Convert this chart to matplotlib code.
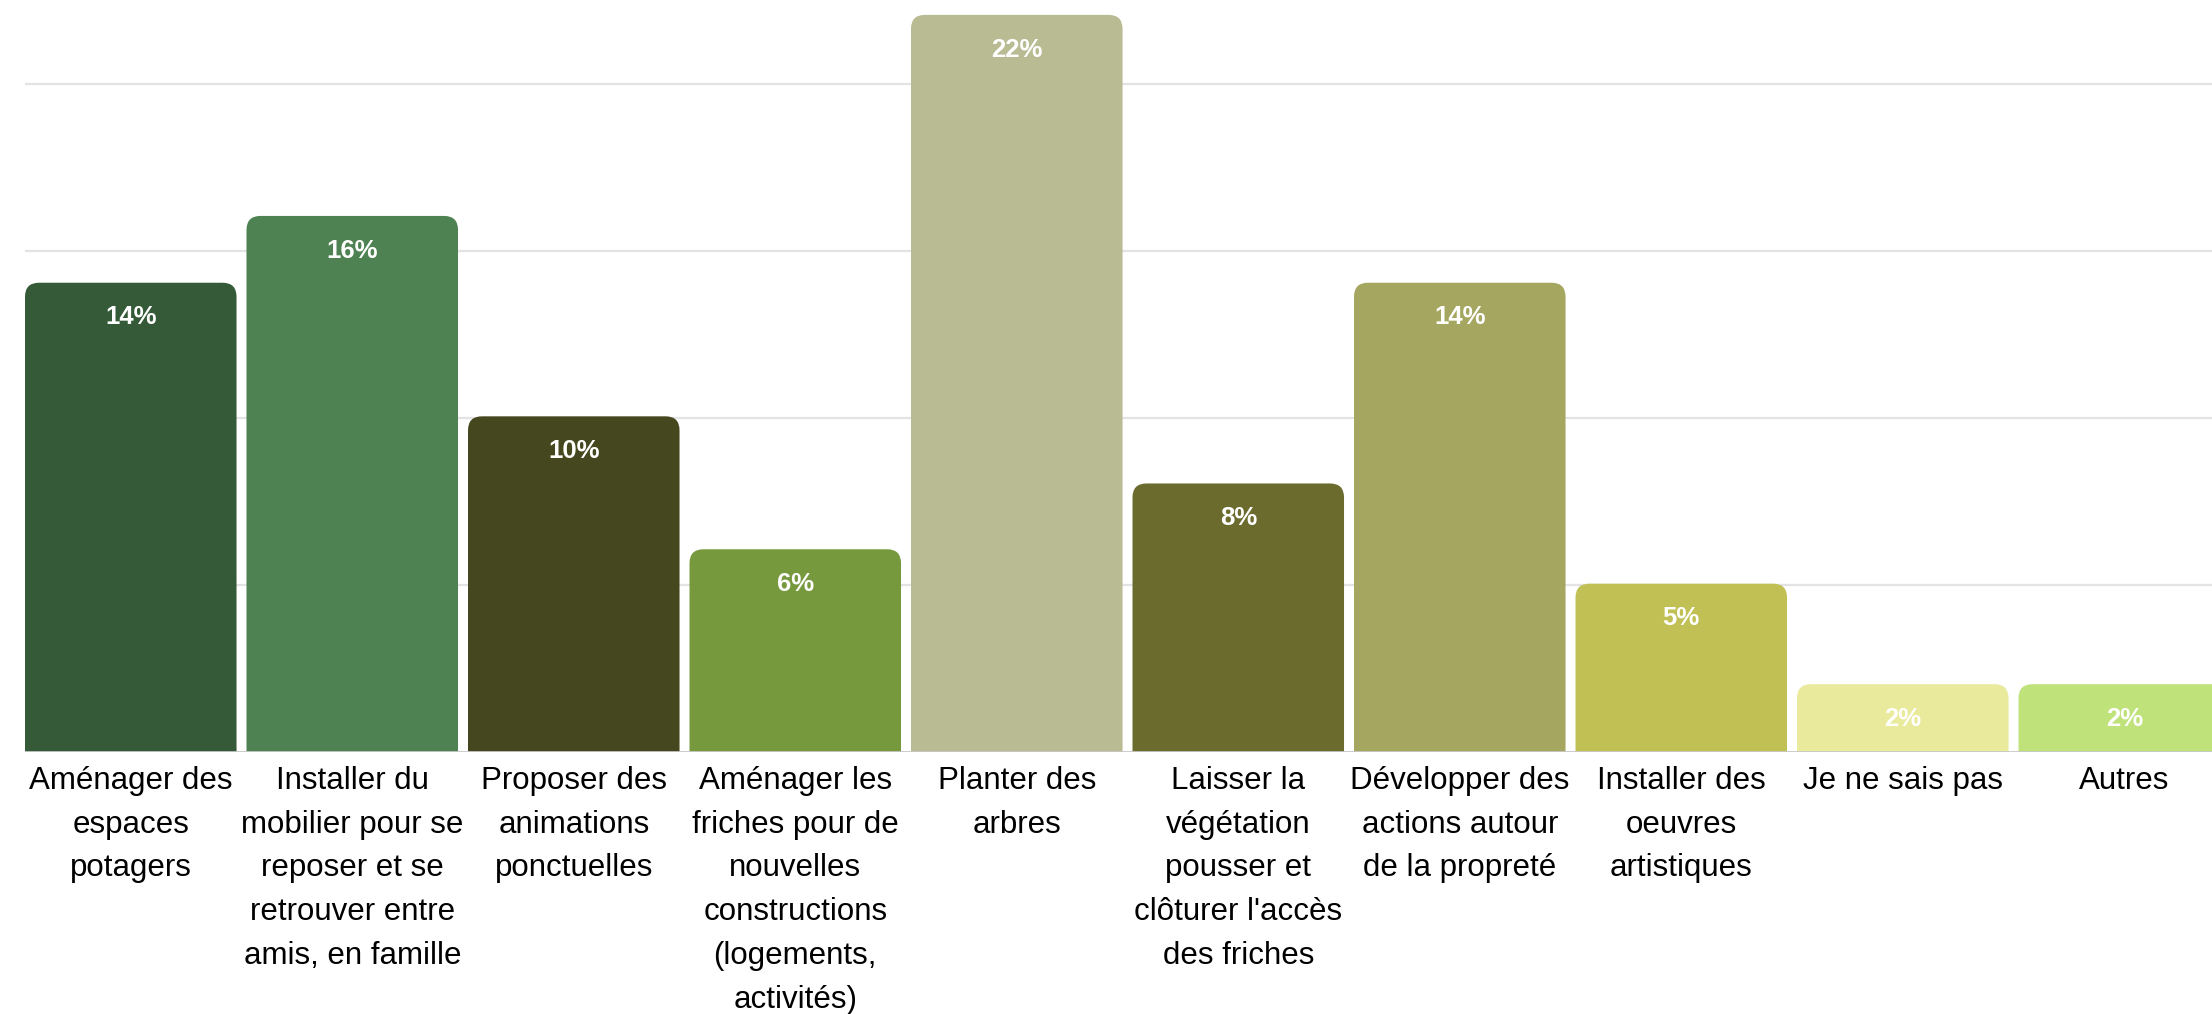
import numpy as np
import matplotlib
matplotlib.use("Agg")
import matplotlib.pyplot as plt
from matplotlib.patches import FancyBboxPatch

plt.rcParams['font.family'] = ['Liberation Sans', 'DejaVu Sans']

# data
categories = [
    "Aménager des\nespaces\npotagers",
    "Installer du\nmobilier pour se\nreposer et se\nretrouver entre\namis, en famille",
    "Proposer des\nanimations\nponctuelles",
    "Aménager les\nfriches pour de\nnouvelles\nconstructions\n(logements,\nactivités)",
    "Planter des\narbres",
    "Laisser la\nvégétation\npousser et\nclôturer l'accès\ndes friches",
    "Développer des\nactions autour\nde la propreté",
    "Installer des\noeuvres\nartistiques",
    "Je ne sais pas",
    "Autres",
]
values = [14.05, 16.05, 10.05, 6.07, 22.07, 8.04, 14.05, 5.04, 2.03, 2.03]
value_labels = ["14%", "16%", "10%", "6%", "22%", "8%", "14%", "5%", "2%", "2%"]
colors = ["#345a37", "#4e8252", "#45471e", "#76993e", "#b9bb93",
          "#6b6b2e", "#a5a760", "#c0c055", "#e9ea9c", "#bfe27a"]
grid_ticks = [5, 10, 15, 20]

W, H = 2212, 1014
fig = plt.figure(figsize=(W / 100, H / 100), dpi=100)

# axes: left edge at first bar, bottom at baseline, top at figure top
x0_px, base_px = 25, 752
ax = fig.add_axes([x0_px / W, 1 - base_px / H, 1 - x0_px / W, base_px / H])

pitch_px = 221.5
bar_w = 0.955
px_per_pct = 33.4
xmin = -bar_w / 2
xmax = xmin + (W - x0_px) / pitch_px
ax.set_xlim(xmin, xmax)
ax.set_ylim(0, base_px / px_per_pct)

# gridlines
for g in grid_ticks:
    ax.axhline(g, color="#e3e3e3", lw=1.6, zorder=0)

# rounded-top bars (bottom hidden below the baseline)
aspect = (1 / px_per_pct) / (1 / pitch_px)
r = 14 / pitch_px
for i, (v, c) in enumerate(zip(values, colors)):
    p = FancyBboxPatch((i - bar_w / 2, -2), bar_w, v + 2,
                       boxstyle=f"round,pad=0,rounding_size={r}",
                       mutation_aspect=aspect, fc=c, ec="none", zorder=2)
    ax.add_patch(p)
    ax.annotate(value_labels[i], (i, v), xytext=(0, -25), textcoords="offset points",
                ha="center", va="center", color="white", fontsize=18.5,
                fontweight="bold", zorder=3)

ax.axhline(0, color="#c8c8c8", lw=2, zorder=3)

ax.set_xticks(range(len(categories)))
ax.set_xticklabels(categories, fontsize=22.5, linespacing=1.6, va="top")
ax.tick_params(axis="x", length=0, pad=10)
ax.set_yticks([])
for s in ax.spines.values():
    s.set_visible(False)

fig.savefig("out.png", dpi=100)
